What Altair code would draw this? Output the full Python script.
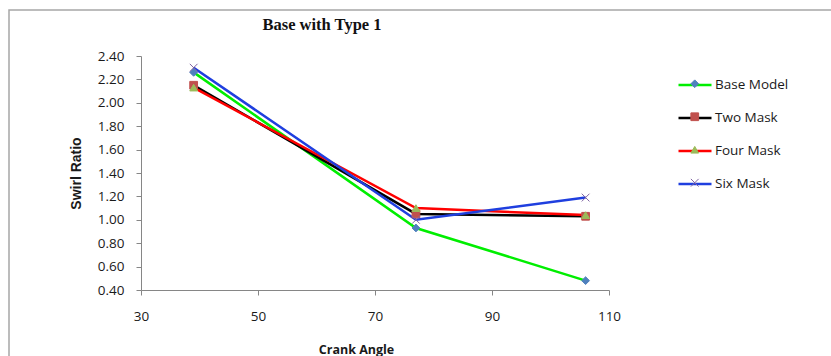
import altair as alt
import pandas as pd

# ---- data ----
series = ["Base Model", "Two Mask", "Four Mask", "Six Mask"]
angles = [39, 77, 106]
base_model = [2.26, 0.93, 0.48]
two_mask = [2.15, 1.05, 1.03]
four_mask = [2.13, 1.10, 1.04]
six_mask = [2.30, 1.00, 1.19]
x_ticks = [30, 50, 70, 90, 110]
y_ticks = [0.40, 0.60, 0.80, 1.00, 1.20, 1.40, 1.60, 1.80, 2.00, 2.20, 2.40]
chart_title = "Base with Type 1"

# ---- styles ----
line_colors = ["#00ee00", "#000000", "#ff0000", "#1f3fdf"]
marker_colors = ["#4f81bd", "#c0504d", "#9bbb59", "#8064a2"]
marker_shapes = ["diamond", "square", "triangle-up", "M-1,-1L1,1M-1,1L1,-1"]

values = [base_model, two_mask, four_mask, six_mask]
rows = []
for s, vals in zip(series, values):
    for a, v in zip(angles, vals):
        rows.append({"series": s, "marker": s, "angle": a, "ratio": v})
df = pd.DataFrame(rows)

FONT = "Open Sans"
PL, PT = 141, 56
W, H = 468, 234

x_enc = alt.X(
    "angle:Q",
    scale=alt.Scale(domain=[30, 110], nice=False, zero=False),
    axis=alt.Axis(
        values=x_ticks, title="Crank Angle", grid=False, labelFlush=False,
        labelOverlap=False,
        tickSize=5, labelPadding=14, labelFontSize=13.5, labelFont=FONT,
        labelColor="#1a1a1a", domainColor="#868686", tickColor="#868686",
        titleFont=FONT, titleFontSize=12.5, titleFontWeight="bold", titleColor="#1a1a1a",
        titleX=215, titleY=59, titleAlign="center", titleBaseline="middle",
    ),
)
y_enc = alt.Y(
    "ratio:Q",
    scale=alt.Scale(domain=[0.4, 2.4], nice=False, zero=False),
    axis=alt.Axis(
        values=y_ticks, format=".2f", title="Swirl Ratio", grid=False,
        labelOverlap=False, labelFlush=False, labelBound=False,
        tickSize=5, labelPadding=12, labelFontSize=13.5, labelFont=FONT,
        labelColor="#1a1a1a", domainColor="#868686", tickColor="#868686",
        titleFont="Liberation Sans", titleFontSize=14, titleFontWeight="bold",
        titleColor="#1a1a1a", titleX=-65, titleY=117, titleAngle=270,
        titleAlign="center", titleBaseline="middle",
    ),
)

lines = alt.Chart(df).mark_line(strokeWidth=2.5).encode(
    x=x_enc,
    y=y_enc,
    color=alt.Color(
        "series:N",
        sort=series,
        scale=alt.Scale(range=line_colors),
        legend=alt.Legend(
            title=None, orient="none", legendX=536, legendY=11, padding=0,
            symbolType="stroke", symbolSize=1089, symbolStrokeWidth=2.5,
            rowPadding=8, labelOffset=2, labelFont=FONT, labelFontSize=13.5,
            labelColor="#1a1a1a",
        ),
    ),
)

pt_legend = alt.Legend(
    title=None, orient="none", legendX=547, legendY=21, padding=0,
    symbolSize=60, symbolStrokeWidth=1, rowPadding=18, labelOpacity=0,
    labelExpr="''", labelFontSize=13.5, labelFont=FONT,
)
pt_scale = dict(domain=series)
points = alt.Chart(df).mark_point(filled=True, size=60, opacity=1, strokeWidth=1).encode(
    x=x_enc,
    y=y_enc,
    fill=alt.Fill("marker:N", scale=alt.Scale(range=marker_colors, **pt_scale), legend=pt_legend),
    stroke=alt.Stroke("marker:N", scale=alt.Scale(range=marker_colors, **pt_scale), legend=pt_legend),
    shape=alt.Shape("marker:N", scale=alt.Scale(range=marker_shapes, **pt_scale), legend=pt_legend),
)

border = alt.Chart(pd.DataFrame({"k": [0]})).mark_rect(
    fill="white", fillOpacity=0, stroke="#a6a6a6", strokeWidth=1.5
).encode(
    x=alt.value(9 - PL), x2=alt.value(840 - PL),
    y=alt.value(10 - PT), y2=alt.value(370 - PT),
)

title_text = alt.Chart(pd.DataFrame({"t": [chart_title]})).mark_text(
    font="Liberation Serif", fontWeight="bold", fontSize=16.5, align="center",
    baseline="middle", color="#111111",
).encode(
    x=alt.value(322 - PL), y=alt.value(25 - PT), text="t:N",
)

chart = alt.layer(border, lines, points, title_text).properties(
    width=W, height=H,
    autosize=alt.AutoSizeParams(type="none"),
    padding={"left": PL, "top": PT, "right": 831 - PL - W, "bottom": 356 - PT - H},
    background="white",
).configure_view(stroke=None).configure_axis(labelOverlap=False)

chart.save("out.html", embed_options={"renderer": "svg", "actions": False})
